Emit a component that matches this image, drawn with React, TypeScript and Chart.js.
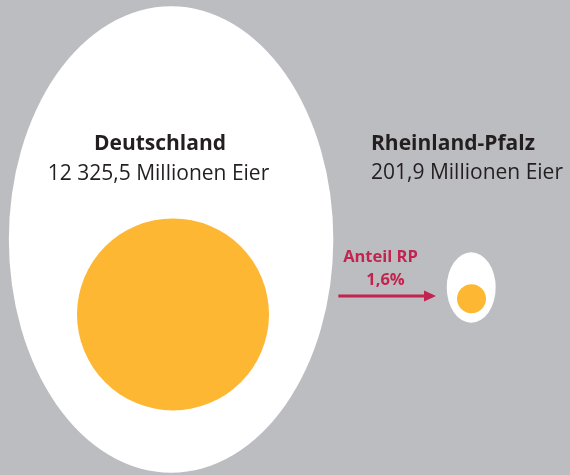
import React, { useEffect, useRef } from "react";
import { Chart, registerables } from "chart.js";

Chart.register(...registerables);

// ---- data ----
const regions = ["Deutschland", "Rheinland-Pfalz"];
const eggsMillion = [12325.5, 201.9]; // Eier, Millionen
const valueLabels = ["12 325,5 Millionen Eier", "201,9 Millionen Eier"];
const shareTitle = "Anteil RP";

// ---- styles ----
const BG = "#bcbdc1";
const WHITE = "#ffffff";
const YOLK = "#fdb733";
const TEXT = "#231f20";
const ACCENT = "#c2244f";
const FONT = "'Open Sans', 'Noto Sans', sans-serif";

const MAX_YOLK_R = 96;
const radiusOf = (v: number) => MAX_YOLK_R * Math.pow(v / Math.max(...eggsMillion), 0.46);
// egg geometry relative to yolk radius
const EGG_RX = 1.69;
const EGG_RY = 2.43;
const YOLK_OFFSET = 0.78;
const EGG_SHIFT_X = -0.02;
// layout: vertical centre of each egg (px)
const eggCenterY = [239.5, 287.5];

const share = ((eggsMillion[1] / eggsMillion[0]) * 100).toFixed(1).replace(".", ",") + "%";

const eggPlugin = {
  id: "eggs",
  beforeDraw(chart: any) {
    const { ctx, width, height } = chart;
    ctx.save();
    ctx.fillStyle = BG;
    ctx.fillRect(0, 0, width, height);
    ctx.restore();
  },
  beforeDatasetsDraw(chart: any) {
    const ctx = chart.ctx;
    const meta = chart.getDatasetMeta(0);
    ctx.save();
    meta.data.forEach((el: any, i: number) => {
      const r = radiusOf(eggsMillion[i]);
      const cy = el.y - YOLK_OFFSET * r;
      ctx.beginPath();
      ctx.ellipse(el.x + EGG_SHIFT_X * r, cy, EGG_RX * r, EGG_RY * r, 0, 0, Math.PI * 2);
      ctx.fillStyle = WHITE;
      ctx.fill();
    });
    ctx.restore();
  },
  afterDatasetsDraw(chart: any) {
    const ctx = chart.ctx;
    const meta = chart.getDatasetMeta(0);
    const big = meta.data[0];
    const small = meta.data[1];
    const rBig = radiusOf(eggsMillion[0]);
    const rSmall = radiusOf(eggsMillion[1]);
    ctx.save();
    ctx.fillStyle = TEXT;
    ctx.textBaseline = "alphabetic";
    // Deutschland
    ctx.textAlign = "center";
    ctx.font = `bold 21px ${FONT}`;
    ctx.fillText(regions[0], big.x - 13, 150);
    ctx.font = `21px ${FONT}`;
    ctx.fillText(valueLabels[0], big.x - 14.5, 180);
    // Rheinland-Pfalz
    ctx.textAlign = "left";
    ctx.font = `bold 21px ${FONT}`;
    ctx.fillText(regions[1], small.x - 100.5, 150);
    ctx.font = `21px ${FONT}`;
    ctx.fillText(valueLabels[1], small.x - 100.5, 179);

    // arrow
    const x0 = big.x + EGG_SHIFT_X * rBig + EGG_RX * rBig + 5;
    const x1 = small.x - EGG_RX * rSmall - 11;
    const ay = 296;
    ctx.strokeStyle = ACCENT;
    ctx.fillStyle = ACCENT;
    ctx.lineWidth = 3;
    ctx.beginPath();
    ctx.moveTo(x0, ay);
    ctx.lineTo(x1 - 10, ay);
    ctx.stroke();
    ctx.beginPath();
    ctx.moveTo(x1, ay);
    ctx.lineTo(x1 - 12, ay - 5.5);
    ctx.lineTo(x1 - 12, ay + 5.5);
    ctx.closePath();
    ctx.fill();
    ctx.textAlign = "center";
    ctx.font = `bold 16.5px ${FONT}`;
    ctx.fillText(shareTitle, 380.5, 262);
    ctx.fillText(share, 385.5, 285);
    ctx.restore();
  },
};

export default function App() {
  const ref = useRef<HTMLCanvasElement | null>(null);
  useEffect(() => {
    document.body.style.margin = "0";
    const canvas = ref.current!;
    const chart = new Chart(canvas, {
      type: "bubble",
      data: {
        labels: regions,
        datasets: [
          {
            label: "Eier",
            data: eggsMillion.map((v, i) => ({
              x: regions[i] as any,
              y: eggCenterY[i] + YOLK_OFFSET * radiusOf(v),
              r: radiusOf(v),
            })),
            backgroundColor: YOLK,
            borderWidth: 0,
            hoverRadius: 0,
            clip: false as any,
          },
        ],
      },
      options: {
        responsive: false,
        animation: false,
        events: [],
        layout: { autoPadding: false, padding: { left: 173, right: 570 - 471.5, top: 0, bottom: 0 } },
        scales: {
          x: { type: "category", display: false, offset: false },
          y: { type: "linear", display: false, min: 0, max: 475, reverse: true },
        },
        plugins: {
          legend: { display: false },
          tooltip: { enabled: false },
          title: { display: false },
        },
      },
      plugins: [eggPlugin],
    });
    return () => chart.destroy();
  }, []);
  return <canvas ref={ref} width={570} height={475} style={{ display: "block" }} />;
}
